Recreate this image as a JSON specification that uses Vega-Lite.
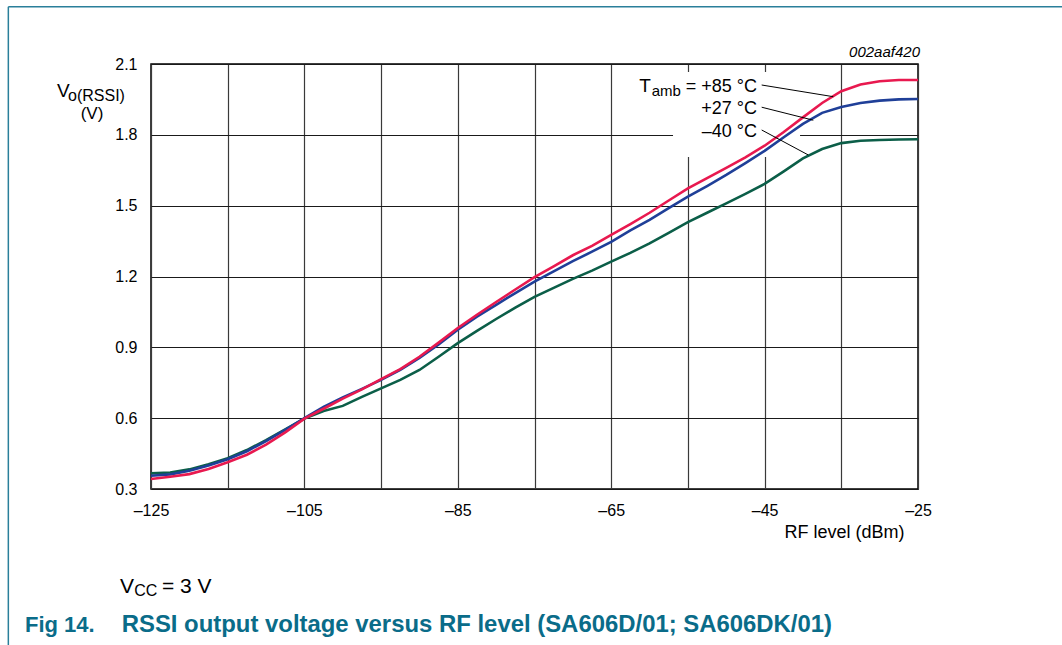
{
  "$schema": "https://vega.github.io/schema/vega-lite/v6.json",
  "width": 767,
  "height": 425,
  "autosize": {"type": "none"},
  "padding": {"left": 151, "top": 64, "right": 144, "bottom": 156},
  "background": "white",
  "config": {
    "view": {"stroke": "#000000", "strokeWidth": 1.5},
    "font": "Liberation Sans",
    "axis": {"labelFont": "Liberation Sans", "titleFont": "Liberation Sans", "labelColor": "#000", "titleColor": "#000", "zindex": 0}
  },
  "data": {"values": [
    {"series": "-40", "dBm": -125, "V": 0.366}, {"series": "-40", "dBm": -122.5, "V": 0.370}, {"series": "-40", "dBm": -120, "V": 0.383}, {"series": "-40", "dBm": -117.5, "V": 0.405}, {"series": "-40", "dBm": -115, "V": 0.430}, {"series": "-40", "dBm": -112.5, "V": 0.465}, {"series": "-40", "dBm": -110, "V": 0.507}, {"series": "-40", "dBm": -107.5, "V": 0.553}, {"series": "-40", "dBm": -105, "V": 0.598}, {"series": "-40", "dBm": -102.5, "V": 0.630}, {"series": "-40", "dBm": -100, "V": 0.652}, {"series": "-40", "dBm": -97.5, "V": 0.690}, {"series": "-40", "dBm": -95, "V": 0.726}, {"series": "-40", "dBm": -92.5, "V": 0.762}, {"series": "-40", "dBm": -90, "V": 0.804}, {"series": "-40", "dBm": -87.5, "V": 0.860}, {"series": "-40", "dBm": -85, "V": 0.918}, {"series": "-40", "dBm": -82.5, "V": 0.970}, {"series": "-40", "dBm": -80, "V": 1.020}, {"series": "-40", "dBm": -77.5, "V": 1.068}, {"series": "-40", "dBm": -75, "V": 1.114}, {"series": "-40", "dBm": -72.5, "V": 1.152}, {"series": "-40", "dBm": -70, "V": 1.190}, {"series": "-40", "dBm": -67.5, "V": 1.225}, {"series": "-40", "dBm": -65, "V": 1.263}, {"series": "-40", "dBm": -62.5, "V": 1.300}, {"series": "-40", "dBm": -60, "V": 1.340}, {"series": "-40", "dBm": -57.5, "V": 1.385}, {"series": "-40", "dBm": -55, "V": 1.430}, {"series": "-40", "dBm": -52.5, "V": 1.470}, {"series": "-40", "dBm": -50, "V": 1.510}, {"series": "-40", "dBm": -47.5, "V": 1.550}, {"series": "-40", "dBm": -45, "V": 1.592}, {"series": "-40", "dBm": -42.5, "V": 1.645}, {"series": "-40", "dBm": -40, "V": 1.700}, {"series": "-40", "dBm": -37.5, "V": 1.740}, {"series": "-40", "dBm": -35, "V": 1.765}, {"series": "-40", "dBm": -32.5, "V": 1.775}, {"series": "-40", "dBm": -30, "V": 1.778}, {"series": "-40", "dBm": -27.5, "V": 1.780}, {"series": "-40", "dBm": -25, "V": 1.781},
    {"series": "+27", "dBm": -125, "V": 0.356}, {"series": "+27", "dBm": -122.5, "V": 0.362}, {"series": "+27", "dBm": -120, "V": 0.377}, {"series": "+27", "dBm": -117.5, "V": 0.400}, {"series": "+27", "dBm": -115, "V": 0.426}, {"series": "+27", "dBm": -112.5, "V": 0.460}, {"series": "+27", "dBm": -110, "V": 0.503}, {"series": "+27", "dBm": -107.5, "V": 0.550}, {"series": "+27", "dBm": -105, "V": 0.600}, {"series": "+27", "dBm": -102.5, "V": 0.648}, {"series": "+27", "dBm": -100, "V": 0.688}, {"series": "+27", "dBm": -97.5, "V": 0.724}, {"series": "+27", "dBm": -95, "V": 0.762}, {"series": "+27", "dBm": -92.5, "V": 0.805}, {"series": "+27", "dBm": -90, "V": 0.855}, {"series": "+27", "dBm": -87.5, "V": 0.912}, {"series": "+27", "dBm": -85, "V": 0.975}, {"series": "+27", "dBm": -82.5, "V": 1.030}, {"series": "+27", "dBm": -80, "V": 1.080}, {"series": "+27", "dBm": -77.5, "V": 1.130}, {"series": "+27", "dBm": -75, "V": 1.178}, {"series": "+27", "dBm": -72.5, "V": 1.222}, {"series": "+27", "dBm": -70, "V": 1.265}, {"series": "+27", "dBm": -67.5, "V": 1.305}, {"series": "+27", "dBm": -65, "V": 1.347}, {"series": "+27", "dBm": -62.5, "V": 1.395}, {"series": "+27", "dBm": -60, "V": 1.440}, {"series": "+27", "dBm": -57.5, "V": 1.490}, {"series": "+27", "dBm": -55, "V": 1.538}, {"series": "+27", "dBm": -52.5, "V": 1.583}, {"series": "+27", "dBm": -50, "V": 1.630}, {"series": "+27", "dBm": -47.5, "V": 1.680}, {"series": "+27", "dBm": -45, "V": 1.732}, {"series": "+27", "dBm": -42.5, "V": 1.790}, {"series": "+27", "dBm": -40, "V": 1.846}, {"series": "+27", "dBm": -37.5, "V": 1.893}, {"series": "+27", "dBm": -35, "V": 1.918}, {"series": "+27", "dBm": -32.5, "V": 1.935}, {"series": "+27", "dBm": -30, "V": 1.945}, {"series": "+27", "dBm": -27.5, "V": 1.950}, {"series": "+27", "dBm": -25, "V": 1.952},
    {"series": "+85", "dBm": -125, "V": 0.342}, {"series": "+85", "dBm": -122.5, "V": 0.352}, {"series": "+85", "dBm": -120, "V": 0.363}, {"series": "+85", "dBm": -117.5, "V": 0.385}, {"series": "+85", "dBm": -115, "V": 0.413}, {"series": "+85", "dBm": -112.5, "V": 0.445}, {"series": "+85", "dBm": -110, "V": 0.488}, {"series": "+85", "dBm": -107.5, "V": 0.540}, {"series": "+85", "dBm": -105, "V": 0.598}, {"series": "+85", "dBm": -102.5, "V": 0.640}, {"series": "+85", "dBm": -100, "V": 0.683}, {"series": "+85", "dBm": -97.5, "V": 0.722}, {"series": "+85", "dBm": -95, "V": 0.765}, {"series": "+85", "dBm": -92.5, "V": 0.808}, {"series": "+85", "dBm": -90, "V": 0.860}, {"series": "+85", "dBm": -87.5, "V": 0.920}, {"series": "+85", "dBm": -85, "V": 0.982}, {"series": "+85", "dBm": -82.5, "V": 1.038}, {"series": "+85", "dBm": -80, "V": 1.092}, {"series": "+85", "dBm": -77.5, "V": 1.145}, {"series": "+85", "dBm": -75, "V": 1.197}, {"series": "+85", "dBm": -72.5, "V": 1.243}, {"series": "+85", "dBm": -70, "V": 1.290}, {"series": "+85", "dBm": -67.5, "V": 1.330}, {"series": "+85", "dBm": -65, "V": 1.376}, {"series": "+85", "dBm": -62.5, "V": 1.422}, {"series": "+85", "dBm": -60, "V": 1.470}, {"series": "+85", "dBm": -57.5, "V": 1.522}, {"series": "+85", "dBm": -55, "V": 1.573}, {"series": "+85", "dBm": -52.5, "V": 1.617}, {"series": "+85", "dBm": -50, "V": 1.660}, {"series": "+85", "dBm": -47.5, "V": 1.705}, {"series": "+85", "dBm": -45, "V": 1.754}, {"series": "+85", "dBm": -42.5, "V": 1.812}, {"series": "+85", "dBm": -40, "V": 1.874}, {"series": "+85", "dBm": -37.5, "V": 1.935}, {"series": "+85", "dBm": -35, "V": 1.985}, {"series": "+85", "dBm": -32.5, "V": 2.013}, {"series": "+85", "dBm": -30, "V": 2.027}, {"series": "+85", "dBm": -27.5, "V": 2.032}, {"series": "+85", "dBm": -25, "V": 2.032}
  ]},
  "layer": [
    {
      "data": {"values": [{}]},
      "mark": {"type": "rect", "fill": "#ffffff", "opacity": 1, "clip": false},
      "encoding": {
        "x": {"datum": -56.94, "type": "quantitative", "scale": {"domain": [-125, -25], "nice": false, "zero": false},
          "axis": {"grid": true, "zindex": 0, "values": [-125, -115, -105, -95, -85, -75, -65, -55, -45, -35, -25], "labelExpr": "(datum.value + 125) % 20 == 0 ? '–' + format(abs(datum.value), 'd') : ''", "tickSize": 0, "labelPadding": 13, "domain": false, "labelFontSize": 16, "labelFlush": false, "gridColor": "#3a3a3a", "gridWidth": 1.2, "title": "RF level (dBm)", "titleFontSize": 18, "titleFontWeight": "normal", "titleAnchor": "end", "titleAlign": "right", "titleBaseline": "alphabetic", "titleX": 753, "titleY": 48}},
        "x2": {"datum": -40.38},
        "y": {"datum": 2.066, "type": "quantitative", "scale": {"domain": [0.3, 2.1], "nice": false, "zero": false},
          "axis": {"grid": true, "zindex": 0, "values": [0.3, 0.6, 0.9, 1.2, 1.5, 1.8, 2.1], "format": ".1f", "tickSize": 0, "labelPadding": 14, "domain": false, "labelFontSize": 16, "labelFlush": false, "gridColor": "#1a1a1a", "gridWidth": 1.2, "title": null}},
        "y2": {"datum": 1.706}
      }
    },
    {
      "mark": {"type": "line", "strokeWidth": 2.6, "interpolate": "linear"},
      "encoding": {
        "x": {"field": "dBm", "type": "quantitative"},
        "y": {"field": "V", "type": "quantitative"},
        "color": {"field": "series", "type": "nominal", "scale": {"domain": ["-40", "+27", "+85"], "range": ["#0b5e48", "#1f3f98", "#e8194f"]}, "legend": null}
      }
    },
    {
      "data": {"values": [{}]},
      "mark": {"type": "rule", "color": "#000", "strokeWidth": 1},
      "encoding": {"x": {"datum": -45.38}, "y": {"datum": 2.011}, "x2": {"datum": -36.04}, "y2": {"datum": 1.9615}}
    },
    {
      "data": {"values": [{}]},
      "mark": {"type": "rule", "color": "#000", "strokeWidth": 1},
      "encoding": {"x": {"datum": -45.38}, "y": {"datum": 1.917}, "x2": {"datum": -38.65}, "y2": {"datum": 1.862}}
    },
    {
      "data": {"values": [{}]},
      "mark": {"type": "rule", "color": "#000", "strokeWidth": 1},
      "encoding": {"x": {"datum": -45.38}, "y": {"datum": 1.8205}, "x2": {"datum": -39.3}, "y2": {"datum": 1.7146}}
    },
    {
      "data": {"values": [{}]},
      "mark": {"type": "text", "align": "right", "baseline": "alphabetic", "fontSize": 18, "font": "Liberation Sans", "color": "#000", "text": "= +85 °C"},
      "encoding": {"x": {"datum": -46}, "y": {"datum": 1.981}}
    },
    {
      "data": {"values": [{}]},
      "mark": {"type": "text", "align": "right", "baseline": "alphabetic", "fontSize": 15, "font": "Liberation Sans", "color": "#000", "text": "amb", "dx": -76, "dy": 4},
      "encoding": {"x": {"datum": -46}, "y": {"datum": 1.981}}
    },
    {
      "data": {"values": [{}]},
      "mark": {"type": "text", "align": "right", "baseline": "alphabetic", "fontSize": 19, "font": "Liberation Sans", "color": "#000", "text": "T", "dx": -106},
      "encoding": {"x": {"datum": -46}, "y": {"datum": 1.981}}
    },
    {
      "data": {"values": [{}]},
      "mark": {"type": "text", "align": "right", "baseline": "alphabetic", "fontSize": 18, "font": "Liberation Sans", "color": "#000", "text": "+27 °C"},
      "encoding": {"x": {"datum": -46}, "y": {"datum": 1.888}}
    },
    {
      "data": {"values": [{}]},
      "mark": {"type": "text", "align": "right", "baseline": "alphabetic", "fontSize": 18, "font": "Liberation Sans", "color": "#000", "text": "–40 °C"},
      "encoding": {"x": {"datum": -46}, "y": {"datum": 1.791}}
    },
    {
      "data": {"values": [{}]},
      "mark": {"type": "text", "align": "right", "baseline": "alphabetic", "fontSize": 15, "font": "Liberation Sans", "fontStyle": "italic", "color": "#000", "text": "002aaf420"},
      "encoding": {"x": {"datum": -24.74}, "y": {"datum": 2.131}}
    },
    {
      "data": {"values": [{}]},
      "mark": {"type": "text", "align": "left", "baseline": "alphabetic", "fontSize": 19, "font": "Liberation Sans", "color": "#000", "text": "V"},
      "encoding": {"x": {"datum": -137.26}, "y": {"datum": 1.9615}}
    },
    {
      "data": {"values": [{}]},
      "mark": {"type": "text", "align": "left", "baseline": "alphabetic", "fontSize": 16, "font": "Liberation Sans", "color": "#000", "text": "o(RSSI)"},
      "encoding": {"x": {"datum": -135.82}, "y": {"datum": 1.943}}
    },
    {
      "data": {"values": [{}]},
      "mark": {"type": "text", "align": "center", "baseline": "alphabetic", "fontSize": 17, "font": "Liberation Sans", "color": "#000", "text": "(V)"},
      "encoding": {"x": {"datum": -132.69}, "y": {"datum": 1.866}}
    },
    {
      "data": {"values": [{}]},
      "mark": {"type": "text", "align": "left", "baseline": "alphabetic", "fontSize": 21, "font": "Liberation Sans", "color": "#000", "text": "V"},
      "encoding": {"x": {"datum": -129.04}, "y": {"datum": -0.1406}}
    },
    {
      "data": {"values": [{}]},
      "mark": {"type": "text", "align": "left", "baseline": "alphabetic", "fontSize": 16, "font": "Liberation Sans", "color": "#000", "text": "CC"},
      "encoding": {"x": {"datum": -127.2}, "y": {"datum": -0.153}}
    },
    {
      "data": {"values": [{}]},
      "mark": {"type": "text", "align": "left", "baseline": "alphabetic", "fontSize": 21, "font": "Liberation Sans", "color": "#000", "text": "= 3 V"},
      "encoding": {"x": {"datum": -123.57}, "y": {"datum": -0.1406}}
    },
    {
      "data": {"values": [{}]},
      "mark": {"type": "text", "align": "left", "baseline": "alphabetic", "fontSize": 22, "font": "Liberation Sans", "fontWeight": "bold", "color": "#0a6c89", "text": "Fig 14."},
      "encoding": {"x": {"datum": -141.43}, "y": {"datum": -0.307}}
    },
    {
      "data": {"values": [{}]},
      "mark": {"type": "text", "align": "left", "baseline": "alphabetic", "fontSize": 23.9, "font": "Liberation Sans", "fontWeight": "bold", "color": "#0a6c89", "text": "RSSI output voltage versus RF level (SA606D/01; SA606DK/01)"},
      "encoding": {"x": {"datum": -128.82}, "y": {"datum": -0.307}}
    },
    {
      "data": {"values": [{}]},
      "mark": {"type": "rule", "color": "#2a7f9a", "strokeWidth": 1.5, "clip": false},
      "encoding": {"x": {"datum": -143.6}, "y": {"datum": 2.343}, "y2": {"datum": -0.37}}
    },
    {
      "data": {"values": [{}]},
      "mark": {"type": "rule", "color": "#2a7f9a", "strokeWidth": 1.5, "clip": false},
      "encoding": {"x": {"datum": -143.6}, "x2": {"datum": -6.0}, "y": {"datum": 2.343}}
    }
  ]
}
